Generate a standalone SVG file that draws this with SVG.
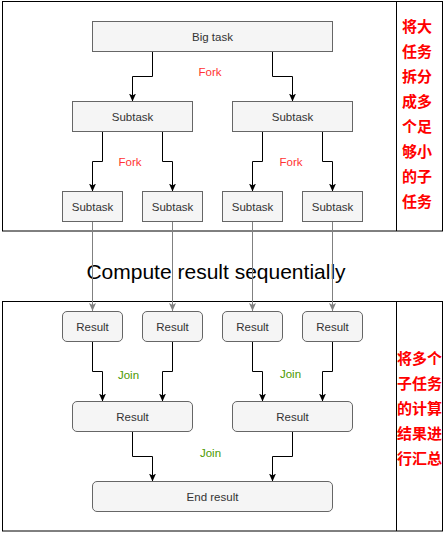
<svg xmlns="http://www.w3.org/2000/svg" width="444" height="533" viewBox="0 0 444 533">
<style>
.frame{fill:#ffffff;stroke:#000000;stroke-width:1}
.box{fill:#f5f5f5;stroke:#666666;stroke-width:1}
.lbl{font-family:"Liberation Sans",Arial,sans-serif;font-size:11.5px;fill:#333333;text-anchor:middle}
.fork{font-family:"Liberation Sans",Arial,sans-serif;font-size:11.5px;fill:#ff3333;text-anchor:middle}
.join{font-family:"Liberation Sans",Arial,sans-serif;font-size:11.5px;fill:#4d9900;text-anchor:middle}
.cn{font-family:"Liberation Sans","Noto Sans CJK SC",sans-serif;font-size:15px;font-weight:bold;fill:#ff0000;text-anchor:middle}
.title{font-family:"Liberation Sans",Arial,sans-serif;font-size:21px;fill:#000000;text-anchor:middle}
.c{fill:none;stroke:#000000;stroke-width:1;marker-end:url(#ab)}
.g{fill:none;stroke:#808080;stroke-width:1;marker-end:url(#ag)}
</style>
<defs>
<marker id="ab" viewBox="0 0 8 7" refX="8" refY="3.5" markerWidth="8" markerHeight="7" orient="auto" markerUnits="userSpaceOnUse"><path d="M0,0 L8,3.5 L0,7 L2,3.5 z" fill="#000000"/></marker>
<marker id="ag" viewBox="0 0 8 7" refX="8" refY="3.5" markerWidth="8" markerHeight="7" orient="auto" markerUnits="userSpaceOnUse"><path d="M0,0 L8,3.5 L0,7 L2,3.5 z" fill="#808080"/></marker>
</defs>
<g id="frame-top">
<rect class="frame" x="2.5" y="1.5" width="440" height="229.5"/>
<line x1="396.5" y1="1.5" x2="396.5" y2="231" stroke="#000000"/>
<text class="cn" x="417" y="32">将大</text>
<text class="cn" x="417" y="57">任务</text>
<text class="cn" x="417" y="82">拆分</text>
<text class="cn" x="417" y="107">成多</text>
<text class="cn" x="417" y="132">个足</text>
<text class="cn" x="417" y="157">够小</text>
<text class="cn" x="417" y="182">的子</text>
<text class="cn" x="417" y="207">任务</text>
</g>
<g id="frame-bottom">
<rect class="frame" x="2.5" y="301.5" width="440" height="229.5"/>
<line x1="396.5" y1="301.5" x2="396.5" y2="531" stroke="#000000"/>
<text class="cn" x="419.5" y="364">将多个</text>
<text class="cn" x="419.5" y="389">子任务</text>
<text class="cn" x="419.5" y="414">的计算</text>
<text class="cn" x="419.5" y="439">结果进</text>
<text class="cn" x="419.5" y="464">行汇总</text>
</g>
<text id="title" class="title" x="216" y="278.5">Compute result sequentially</text>
<g id="connectors">
<path class="c" d="M152.5,51.5 V76.5 H132.5 V101.5"/>
<path class="c" d="M272.5,51.5 V76.5 H292.5 V101.5"/>
<path class="c" d="M102.5,131.5 V161.5 H92.5 V191.5"/>
<path class="c" d="M162.5,131.5 V161.5 H172.5 V191.5"/>
<path class="c" d="M262.5,131.5 V161.5 H252.5 V191.5"/>
<path class="c" d="M322.5,131.5 V161.5 H332.5 V191.5"/>
<path class="g" d="M92.5,221.5 V311"/>
<path class="g" d="M172.5,221.5 V311"/>
<path class="g" d="M252.5,221.5 V311"/>
<path class="g" d="M332.5,221.5 V311"/>
<path class="c" d="M92.5,341.5 V371.5 H102.5 V401.5"/>
<path class="c" d="M172.5,341.5 V371.5 H162.5 V401.5"/>
<path class="c" d="M252.5,341.5 V371.5 H262.5 V401.5"/>
<path class="c" d="M332.5,341.5 V371.5 H322.5 V401.5"/>
<path class="c" d="M132.5,431.5 V456.5 H152.5 V481.5"/>
<path class="c" d="M292.5,431.5 V456.5 H272.5 V481.5"/>
<text class="fork" x="210" y="76">Fork</text>
<text class="fork" x="130" y="166">Fork</text>
<text class="fork" x="291" y="166">Fork</text>
<text class="join" x="128.5" y="379">Join</text>
<text class="join" x="290.5" y="377.5">Join</text>
<text class="join" x="210.5" y="456.5">Join</text>
</g>
<g id="big-task"><rect class="box" x="92.5" y="21.5" width="240" height="30"/><text class="lbl" x="212.5" y="40.6">Big task</text></g>
<g id="subtask-l"><rect class="box" x="72.5" y="101.5" width="120" height="30"/><text class="lbl" x="132.5" y="120.6">Subtask</text></g>
<g id="subtask-r"><rect class="box" x="232.5" y="101.5" width="120" height="30"/><text class="lbl" x="292.5" y="120.6">Subtask</text></g>
<g id="subtask-1"><rect class="box" x="62.5" y="191.5" width="60" height="30"/><text class="lbl" x="92.5" y="210.6">Subtask</text></g>
<g id="subtask-2"><rect class="box" x="142.5" y="191.5" width="60" height="30"/><text class="lbl" x="172.5" y="210.6">Subtask</text></g>
<g id="subtask-3"><rect class="box" x="222.5" y="191.5" width="60" height="30"/><text class="lbl" x="252.5" y="210.6">Subtask</text></g>
<g id="subtask-4"><rect class="box" x="302.5" y="191.5" width="60" height="30"/><text class="lbl" x="332.5" y="210.6">Subtask</text></g>
<g id="result-1"><rect class="box" x="62.5" y="311.5" width="60" height="30" rx="4.5"/><text class="lbl" x="92.5" y="330.6">Result</text></g>
<g id="result-2"><rect class="box" x="142.5" y="311.5" width="60" height="30" rx="4.5"/><text class="lbl" x="172.5" y="330.6">Result</text></g>
<g id="result-3"><rect class="box" x="222.5" y="311.5" width="60" height="30" rx="4.5"/><text class="lbl" x="252.5" y="330.6">Result</text></g>
<g id="result-4"><rect class="box" x="302.5" y="311.5" width="60" height="30" rx="4.5"/><text class="lbl" x="332.5" y="330.6">Result</text></g>
<g id="result-l"><rect class="box" x="72.5" y="401.5" width="120" height="30" rx="4.5"/><text class="lbl" x="132.5" y="420.6">Result</text></g>
<g id="result-r"><rect class="box" x="232.5" y="401.5" width="120" height="30" rx="4.5"/><text class="lbl" x="292.5" y="420.6">Result</text></g>
<g id="end-result"><rect class="box" x="92.5" y="481.5" width="240" height="30" rx="4.5"/><text class="lbl" x="212.5" y="500.6">End result</text></g>
</svg>
